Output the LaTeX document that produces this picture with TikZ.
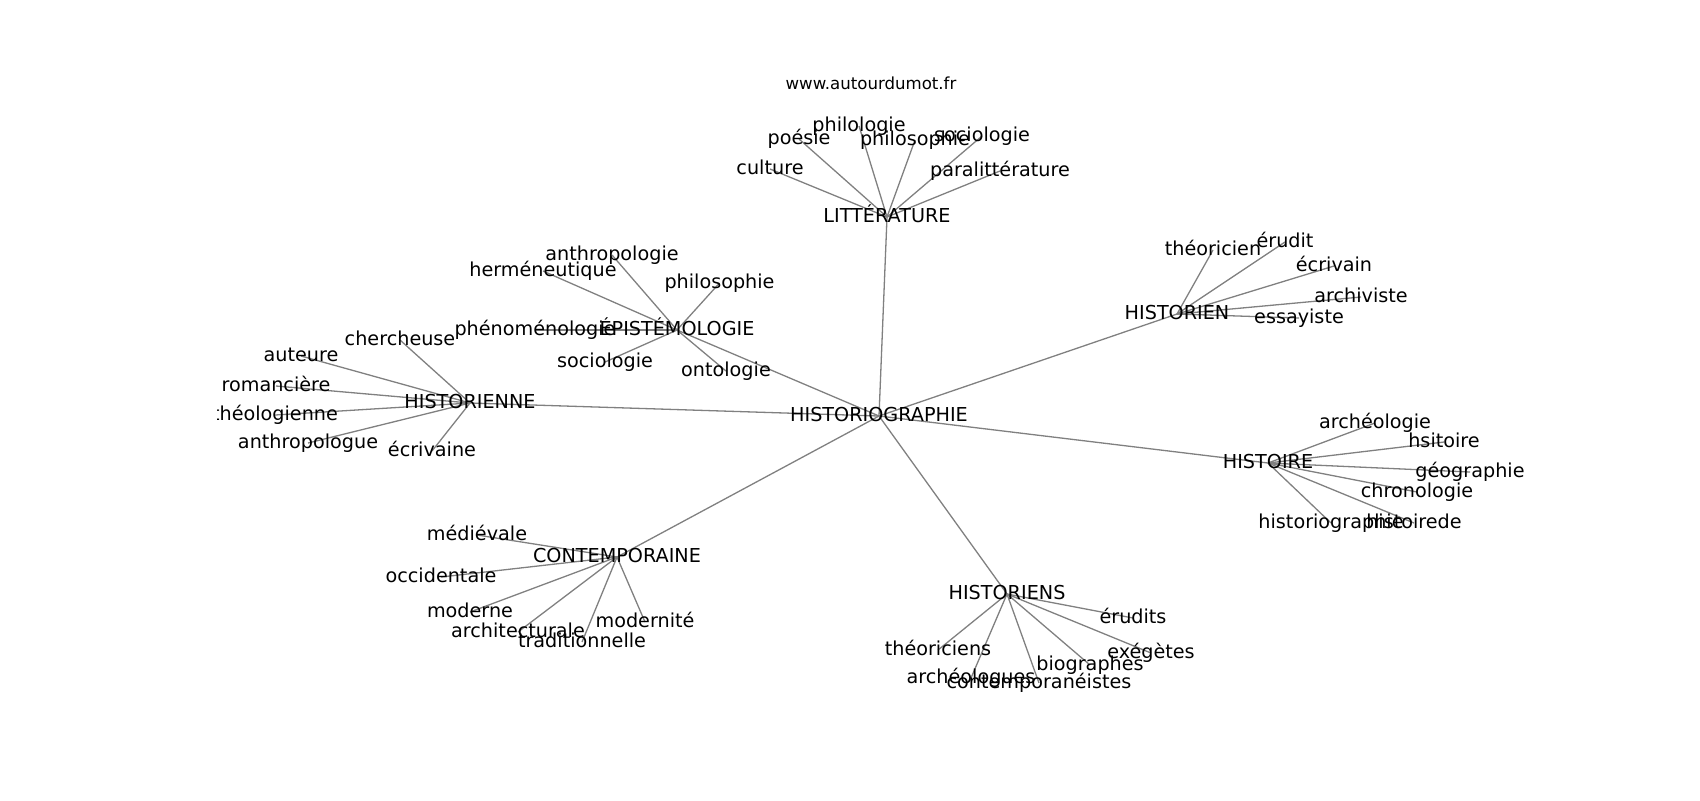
\documentclass[tikz,border=0pt]{standalone}
\usepackage{fontspec}
\setmainfont{DejaVu Sans}
\usetikzlibrary{backgrounds}
\begin{document}
\begin{tikzpicture}[x=0.5pt,y=-0.5pt,
  lbl/.style={font=\fontsize{9.6}{11}\selectfont, inner sep=0pt, text height=0.76em, text depth=0.236em, anchor=center},
  ttl/.style={font=\fontsize{8.3}{10}\selectfont, inner sep=0pt, text height=0.76em, text depth=0.236em, anchor=center},
  edge/.style={draw=gray, line width=0.65pt}]
\useasboundingbox (0,0) rectangle (1700,800);
\node[ttl] (title) at (871,84) {www.autourdumot.fr};
\begin{scope}
\clip (217,96) rectangle (1530,704);
% centre
\node[lbl] (c) at (879,416) {HISTORIOGRAPHIE};
% LITTERATURE
\node[lbl] (lit) at (887,217) {LITTÉRATURE};
\node[lbl] (lit1) at (770,169) {culture};
\node[lbl] (lit2) at (799,139) {poésie};
\node[lbl] (lit3) at (859,126) {philologie};
\node[lbl] (lit4) at (915,140) {philosophie};
\node[lbl] (lit5) at (982,136) {sociologie};
\node[lbl] (lit6) at (1000,171) {paralittérature};
% EPISTEMOLOGIE
\node[lbl] (epi) at (677,330) {ÉPISTÉMOLOGIE};
\node[lbl] (epi1) at (612,255) {anthropologie};
\node[lbl] (epi2) at (543,271) {herméneutique};
\node[lbl] (epi3) at (719.5,283) {philosophie};
\node[lbl] (epi4) at (535,330) {phénoménologie};
\node[lbl] (epi5) at (605,362) {sociologie};
\node[lbl] (epi6) at (726,371) {ontologie};
% HISTORIENNE
\node[lbl] (hne) at (470,403) {HISTORIENNE};
\node[lbl] (hne1) at (400,340) {chercheuse};
\node[lbl] (hne2) at (301,356) {auteure};
\node[lbl] (hne3) at (276,386) {romancière};
\node[lbl] (hne4) at (275,415) {théologienne};
\node[lbl] (hne5) at (308,443) {anthropologue};
\node[lbl] (hne6) at (432,451) {écrivaine};
% HISTORIEN
\node[lbl] (hen) at (1177,314) {HISTORIEN};
\node[lbl] (hen1) at (1213,250) {théoricien};
\node[lbl] (hen2) at (1285,242) {érudit};
\node[lbl] (hen3) at (1334,266) {écrivain};
\node[lbl] (hen4) at (1361,297) {archiviste};
\node[lbl] (hen5) at (1299,318) {essayiste};
% HISTOIRE
\node[lbl] (hoi) at (1268,463) {HISTOIRE};
\node[lbl] (hoi1) at (1375,423) {archéologie};
\node[lbl] (hoi2) at (1444,442) {hsitoire};
\node[lbl] (hoi3) at (1470,472) {géographie};
\node[lbl] (hoi4) at (1417,492) {chronologie};
\node[lbl] (hoi5) at (1331,523) {historiographie};
\node[lbl] (hoi6) at (1414,523) {histoirede};
% HISTORIENS
\node[lbl] (hns) at (1007,594) {HISTORIENS};
\node[lbl] (hns1) at (1133,618) {érudits};
\node[lbl] (hns2) at (938,650) {théoriciens};
\node[lbl] (hns3) at (1151,653) {exégètes};
\node[lbl] (hns4) at (1090,665) {biographes};
\node[lbl] (hns5) at (971,678) {archéologues};
\node[lbl] (hns6) at (1039,683) {contemporanéistes};
% CONTEMPORAINE
\node[lbl] (con) at (617,557) {CONTEMPORAINE};
\node[lbl] (con1) at (477,535) {médiévale};
\node[lbl] (con2) at (441,577) {occidentale};
\node[lbl] (con3) at (470,612) {moderne};
\node[lbl] (con4) at (518,632) {architecturale};
\node[lbl] (con5) at (582,642) {traditionnelle};
\node[lbl] (con6) at (645,622) {modernité};
\end{scope}
\begin{scope}[on background layer]
\foreach \h in {lit,epi,hne,hen,hoi,hns,con}
  \draw[edge] (c.center) -- (\h.center);
\foreach \h in {lit,epi,hne,hoi,hns,con}
  \foreach \i in {1,...,6}
    \draw[edge] (\h.center) -- (\h\i.center);
\foreach \i in {1,...,5}
  \draw[edge] (hen.center) -- (hen\i.center);
\end{scope}
\end{tikzpicture}
\end{document}
